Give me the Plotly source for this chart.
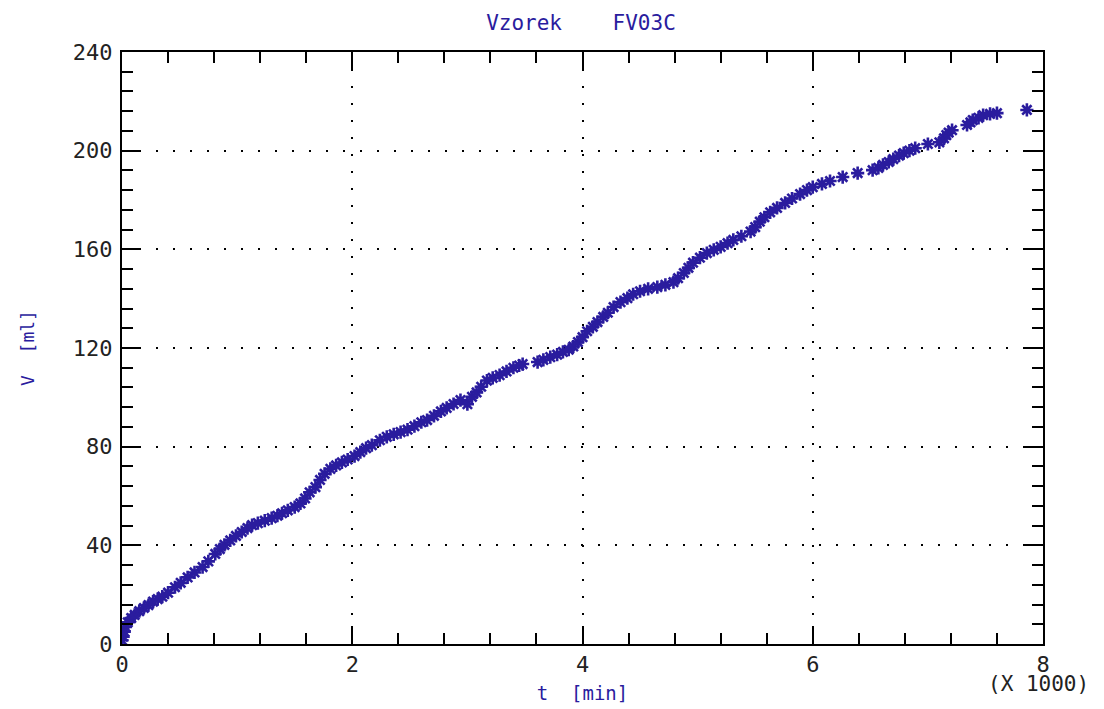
import plotly.graph_objects as go

# t in thousands of minutes, V in ml
t_k = [0.0, 0.01, 0.02, 0.03, 0.05, 0.08, 0.11, 0.15, 0.19, 0.23, 0.27, 0.31, 0.35,
       0.40, 0.46, 0.51, 0.57, 0.63, 0.70, 0.75, 0.81, 0.85, 0.89, 0.94, 0.99, 1.04,
       1.09, 1.13, 1.18, 1.24, 1.30, 1.35, 1.39, 1.44, 1.50, 1.55, 1.59, 1.63, 1.68,
       1.72, 1.76, 1.81, 1.86, 1.91, 1.96, 2.02, 2.07, 2.12, 2.17, 2.24, 2.30, 2.36,
       2.42, 2.48, 2.54, 2.60, 2.65, 2.71, 2.77, 2.82, 2.88, 2.94, 3.00, 3.04, 3.08,
       3.12, 3.17, 3.22, 3.28, 3.34, 3.40, 3.45, 3.48, 3.61, 3.66, 3.72, 3.78, 3.83,
       3.88, 3.92, 3.96, 4.00, 4.04, 4.09, 4.13, 4.18, 4.22, 4.27, 4.33, 4.39, 4.44,
       4.50, 4.57, 4.65, 4.72, 4.79, 4.83, 4.88, 4.92, 4.96, 5.02, 5.08, 5.14, 5.20,
       5.26, 5.31, 5.38, 5.46, 5.50, 5.54, 5.58, 5.63, 5.69, 5.76, 5.82, 5.89, 5.95,
       6.00, 6.08, 6.15, 6.26, 6.39, 6.52, 6.57, 6.61, 6.66, 6.70, 6.75, 6.79, 6.84,
       6.89, 7.00, 7.10, 7.14, 7.16, 7.18, 7.21, 7.34, 7.37, 7.39, 7.44, 7.48, 7.54,
       7.60, 7.86]
V_ml = [1.5, 3.0, 5.0, 6.9, 8.8, 10.5, 11.8, 13.3, 14.6, 15.8, 17.2, 18.2, 19.2,
        20.8, 23.0, 24.8, 27.0, 29.0, 31.2, 33.5, 36.5, 38.5, 40.2, 42.0, 43.8, 45.4,
        47.0, 48.2, 49.0, 50.0, 51.0, 52.0, 53.0, 54.2, 55.5, 57.0, 59.0, 61.5, 63.6,
        66.5, 69.0, 71.0, 72.4, 73.6, 74.8, 76.2, 77.8, 79.4, 80.6, 82.6, 84.0, 85.0,
        85.9, 86.9, 88.3, 89.9, 90.8, 92.5, 94.3, 95.7, 97.3, 98.9, 97.2, 100.2, 102.0,
        104.3, 106.8, 107.9, 109.0, 110.5, 112.0, 112.9, 113.5, 114.3, 115.2, 116.3, 117.3, 118.4,
        119.3, 120.6, 122.4, 124.4, 126.8, 128.6, 130.5, 132.6, 134.3, 136.6, 138.6, 140.2, 141.8,
        143.0, 144.0, 144.7, 145.6, 146.7, 148.3, 150.4, 152.5, 154.6, 156.6, 158.5, 159.8, 161.0,
        162.5, 163.8, 165.3, 167.2, 169.0, 171.2, 173.0, 175.0, 176.8, 178.8, 180.6, 182.4, 184.0,
        185.2, 186.5, 187.7, 189.3, 190.9, 192.1, 193.0, 194.2, 195.4, 196.6, 198.0, 199.0, 200.0,
        201.0, 202.7, 203.4, 205.0, 206.3, 207.3, 208.3, 210.4, 211.5, 212.4, 213.3, 214.4, 214.9,
        215.2, 216.5]

x_ticks = [0, 2, 4, 6, 8]
y_ticks = [0, 40, 80, 120, 160, 200, 240]

blue = "#2a1c9e"
mono = "DejaVu Sans Mono"

fig = go.Figure()
fig.add_trace(go.Scatter(
    x=t_k, y=V_ml, mode="markers",
    marker=dict(symbol="asterisk-open", size=11, color=blue,
                line=dict(color=blue, width=2.6)),
    showlegend=False, hoverinfo="skip"))

axis_common = dict(
    showline=True, linecolor="black", linewidth=2, mirror="ticks",
    ticks="inside", ticklen=18, tickwidth=2, tickcolor="black",
    showgrid=True, gridcolor="black", gridwidth=2, griddash="2px,15px",
    zeroline=False, automargin=False,
    tickfont=dict(family=mono, size=22, color="#222222"),
)

fig.update_xaxes(
    range=[0, 8], tickvals=x_ticks, ticktext=[str(v) for v in x_ticks],
    minor=dict(dtick=0.4, tick0=0, ticks="inside", ticklen=11, tickwidth=2,
               tickcolor="black", showgrid=False),
    title=dict(text="t  [min]", font=dict(family=mono, size=19, color=blue), standoff=10),
    **axis_common)
fig.update_yaxes(
    range=[0, 240], tickvals=y_ticks, ticktext=[str(v) for v in y_ticks],
    ticklabelstandoff=3,
    minor=dict(dtick=8, tick0=0, ticks="inside", ticklen=11, tickwidth=2,
               tickcolor="black", showgrid=False),
    title=dict(text="V  [ml]", font=dict(family=mono, size=18, color=blue), standoff=34),
    **axis_common)

fig.update_layout(
    width=1104, height=709,
    margin=dict(l=114, r=69, t=44, b=73),
    paper_bgcolor="white", plot_bgcolor="white",
    title=dict(text="Vzorek    FV03C", x=0.519, xanchor="center", y=0.98, yanchor="middle",
               font=dict(family=mono, size=21, color=blue)),
    annotations=[dict(text="(X 1000)", xref="paper", yref="paper", x=1.0, y=-0.068,
                      xanchor="left", yanchor="middle", showarrow=False,
                      xshift=-57,
                      font=dict(family=mono, size=21, color="#222222"))],
)

fig.write_html("out.html")
